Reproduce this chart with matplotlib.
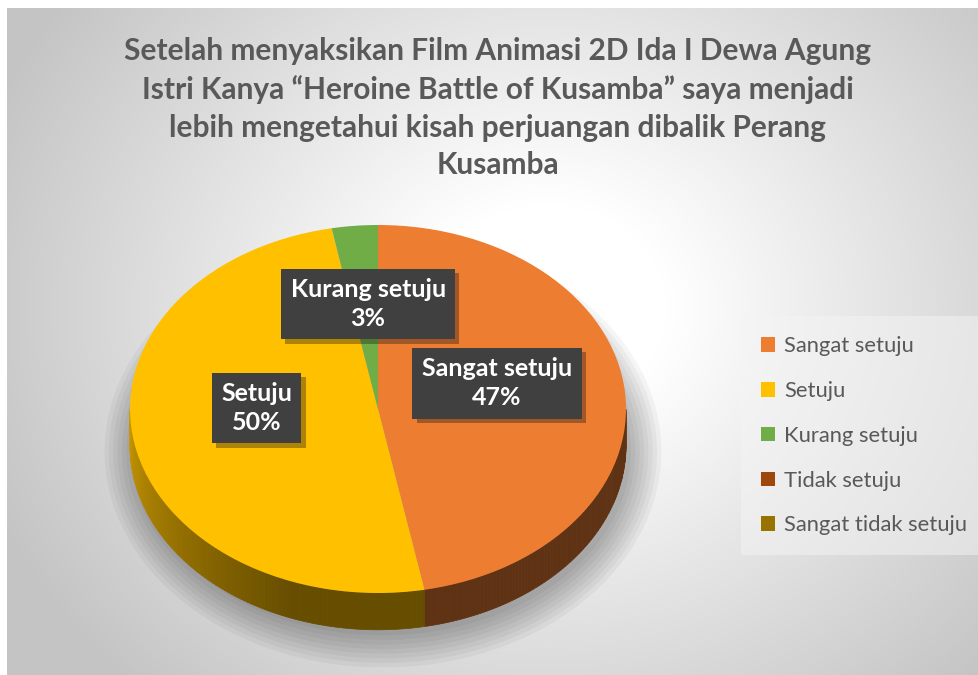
import numpy as np
import matplotlib
matplotlib.use('Agg')
import matplotlib.pyplot as plt
from matplotlib.patches import Patch, Ellipse
from matplotlib.collections import PolyCollection
import matplotlib.patheffects as pe

plt.rcParams['font.family'] = ['Lato', 'DejaVu Sans']

categories = ['Sangat setuju', 'Setuju', 'Kurang setuju', 'Tidak setuju', 'Sangat tidak setuju']
percentages = [47, 50, 3, 0, 0]
colors = ['#ED7D31', '#FFC000', '#70AD47', '#9E480E', '#997300']
title = ('Setelah menyaksikan Film Animasi 2D Ida I Dewa Agung\n'
         'Istri Kanya \u201cHeroine Battle of Kusamba\u201d saya menjadi\n'
         'lebih mengetahui kisah perjuangan dibalik Perang\n'
         'Kusamba')

# label anchor in pie units (x, y)
label_pos = {'Sangat setuju': (0.48, 0.14), 'Setuju': (-0.49, 0.005), 'Kurang setuju': (-0.04, 0.57)}

W, H = 979, 675
fig = plt.figure(figsize=(W / 100, H / 100), dpi=100)
fig.patch.set_facecolor('white')

# chart area background: radial grey gradient
bg = fig.add_axes([7 / W, 0, 1 - 7 / W, 1 - 8 / H])
yy, xx = np.mgrid[0:667, 0:972]
dist = np.hypot(xx - 540, (yy - 300) * 1.15)
g = np.clip((dist - 120) / 480, 0, 1)
shade = 1.0 - 0.23 * g
bg.imshow(np.dstack([shade] * 3), aspect='auto', interpolation='bilinear')
bg.set_axis_off()

# pie axes: ellipse centre at (378, 409) px, rx=248, ry=184
rx, ry, cx, cy = 248, 184, 378, 409
xl, yl = (-1.2, 1.2), (-1.4, 1.2)
ax = fig.add_axes([(cx + xl[0] * rx) / W, (H - (cy - yl[0] * ry)) / H,
                   (xl[1] - xl[0]) * rx / W, (yl[1] - yl[0]) * ry / H])
ax.patch.set_alpha(0)
depth = 0.2

# soft shadow under the pie
for k in range(8):
    ax.add_patch(Ellipse((0.02, -depth - 0.03), 2.0 + 0.035 * k, 2.0 + 0.05 * k,
                         facecolor='black', alpha=0.04, lw=0, zorder=0.5))

wedges, _ = ax.pie(percentages, colors=colors, startangle=90, counterclock=False,
                   wedgeprops=dict(linewidth=0))
for w in wedges:
    w.set_zorder(3)

# side wall of the front half
fracs = np.array(percentages, dtype=float) / sum(percentages)
bounds = 90 - 360 * np.concatenate([[0], np.cumsum(fracs)])
polys, pcols = [], []
for i in range(len(categories)):
    a0, a1 = bounds[i], bounds[i + 1]
    if a0 == a1:
        continue
    ts = np.linspace(a0, a1, 200)
    base = np.array(matplotlib.colors.to_rgb(colors[i]))
    for t0, t1 in zip(ts[:-1], ts[1:]):
        tm = (t0 + t1) / 2 % 360
        if not (180 <= tm <= 360):
            continue
        r0, r1 = np.radians(t0), np.radians(t1)
        p = [(np.cos(r0), np.sin(r0)), (np.cos(r1), np.sin(r1)),
             (np.cos(r1), np.sin(r1) - depth), (np.cos(r0), np.sin(r0) - depth)]
        polys.append(p)
        f = 0.4 + 0.38 * np.clip((250 - tm) / 70, 0, 1)
        pcols.append(base * f)
ax.add_collection(PolyCollection(polys, facecolors=pcols, edgecolors=pcols, linewidths=0.5, zorder=2))

ax.set_aspect('auto')
ax.set_xlim(*xl)
ax.set_ylim(*yl)
ax.set_axis_off()

# data labels
for cat, pct in zip(categories, percentages):
    if pct == 0:
        continue
    x, y = label_pos[cat]
    t = ax.text(x, y, f'{cat}\n{pct}%', ha='center', va='center', fontsize=18, fontweight='bold',
                color='white', linespacing=1.3, zorder=5,
                bbox=dict(boxstyle='square,pad=0.38', facecolor='#404040', edgecolor='none'))
    t.get_bbox_patch().set_path_effects([pe.SimplePatchShadow(offset=(3, -3), alpha=0.35),
                                         pe.Normal()])

fig.text(498 / W, 1 - 37 / H, title, ha='center', va='top', fontsize=21.5, fontweight='bold',
         color='#595959', linespacing=1.42)

handles = [Patch(facecolor=c, edgecolor='none') for c in colors]
leg = fig.legend(handles, categories, loc='upper left', bbox_to_anchor=(748 / W, 1 - 323 / H),
                 frameon=True, fontsize=15.8, labelcolor='#595959', handlelength=0.65,
                 handleheight=0.65, handletextpad=0.4, labelspacing=1.13, borderpad=0.6,
                 borderaxespad=0)
leg.get_frame().set_facecolor('#f4f4f4')
leg.get_frame().set_alpha(0.5)
leg.get_frame().set_edgecolor('none')
leg.get_frame().set_boxstyle('square')

fig.savefig('out.png', dpi=100)
